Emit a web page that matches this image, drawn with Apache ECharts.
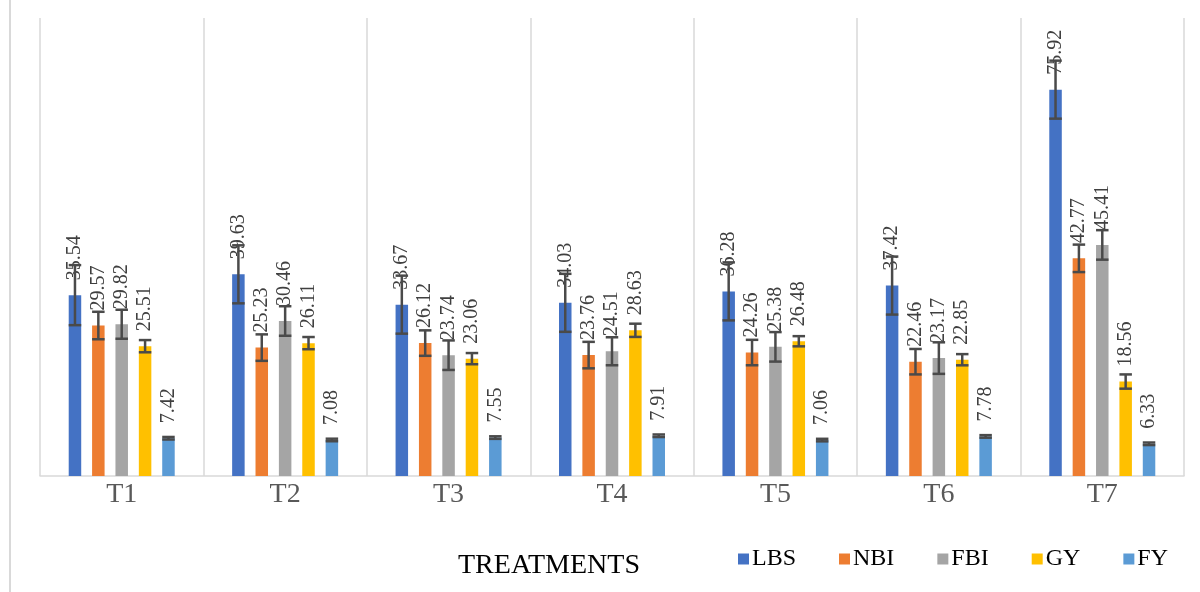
<!DOCTYPE html>
<html>
<head>
<meta charset="utf-8">
<script src="https://cdn.jsdelivr.net/npm/echarts@6/dist/echarts.min.js"></script>
<style>html,body{margin:0;padding:0;background:#fff}#c{width:1200px;height:592px}</style>
</head>
<body>
<div id="c"></div>
<script>
const categories = ['T1','T2','T3','T4','T5','T6','T7'];
const seriesNames = ['LBS','NBI','FBI','GY','FY'];
const LBS = [35.54, 39.63, 33.67, 34.03, 36.28, 37.42, 75.92];
const NBI = [29.57, 25.23, 26.12, 23.76, 24.26, 22.46, 42.77];
const FBI = [29.82, 30.46, 23.74, 24.51, 25.38, 23.17, 45.41];
const GY  = [25.51, 26.11, 23.06, 28.63, 26.48, 22.85, 18.56];
const FY  = [7.42, 7.08, 7.55, 7.91, 7.06, 7.78, 6.33];
const errLBS = [5.9, 5.7, 5.7, 5.7, 5.7, 5.7, 5.7];
const errNBI = [2.7, 2.6, 2.5, 2.6, 2.5, 2.5, 2.7];
const errFBI = [2.85, 2.9, 2.9, 2.75, 2.9, 3.1, 2.9];
const errGY  = [1.2, 1.2, 1.1, 1.3, 1.0, 1.1, 1.4];
const errFY  = [0.25, 0.25, 0.25, 0.25, 0.25, 0.25, 0.25];

const values = [LBS, NBI, FBI, GY, FY];
const errors = [errLBS, errNBI, errFBI, errGY, errFY];
const colors = ['#4472C4','#ED7D31','#A5A5A5','#FFC000','#5B9BD5'];

const BAR_W = 12.5;
const GAP_RATIO = 0.87;
const STEP = BAR_W * (1 + GAP_RATIO);

const chart = echarts.init(document.getElementById('c'));
const series = [];
values.forEach((vals, k) => {
  series.push({
    name: seriesNames[k],
    type: 'bar',
    data: vals,
    barWidth: BAR_W,
    barGap: (GAP_RATIO * 100) + '%',
    itemStyle: { color: colors[k] },
    z: 2,
    label: {
      show: true,
      position: 'top',
      distance: 15,
      rotate: 90,
      align: 'left',
      verticalAlign: 'middle',
      fontFamily: 'Liberation Serif',
      fontSize: 20,
      color: '#404040',
      formatter: p => p.value.toFixed(2)
    }
  });
});
values.forEach((vals, k) => {
  series.push({
    type: 'custom',
    name: seriesNames[k] + '_err',
    z: 5,
    silent: true,
    data: vals.map((v, i) => [i, v, errors[k][i]]),
    renderItem: function (params, api) {
      const i = api.value(0), v = api.value(1), e = api.value(2);
      const hi = api.coord([i, v + e]);
      const lo = api.coord([i, v - e]);
      const x = hi[0] + (k - 2) * STEP;
      const hw = BAR_W / 2;
      const style = { stroke: '#4a4a4a', lineWidth: 2.5 };
      return {
        type: 'group',
        children: [
          { type: 'line', shape: { x1: x, y1: hi[1], x2: x, y2: lo[1] }, style },
          { type: 'line', shape: { x1: x - hw, y1: hi[1], x2: x + hw, y2: hi[1] }, style },
          { type: 'line', shape: { x1: x - hw, y1: lo[1], x2: x + hw, y2: lo[1] }, style }
        ]
      };
    }
  });
});

chart.setOption({
  animation: false,
  backgroundColor: '#fff',
  grid: { left: 40, right: 16, top: 18, bottom: 116 },
  xAxis: {
    type: 'category',
    data: categories,
    axisLine: { lineStyle: { color: '#d9d9d9', width: 1.5 } },
    axisTick: { show: false },
    splitLine: { show: true, lineStyle: { color: '#d9d9d9', width: 1.5 } },
    axisLabel: { fontFamily: 'Liberation Serif', fontSize: 28, color: '#595959', margin: 5 }
  },
  yAxis: { type: 'value', min: 0, max: 90, show: false },
  legend: {
    data: seriesNames,
    left: 733, top: 542,
    icon: 'rect', itemWidth: 11, itemHeight: 11, itemGap: 43,
    textStyle: { fontFamily: 'Liberation Serif', fontSize: 24, color: '#000', padding: [0,0,0,-2] }
  },
  graphic: [
    { type: 'line', shape: { x1: 10, y1: 0, x2: 10, y2: 592 }, style: { stroke: '#d9d9d9', lineWidth: 2 } },
    { type: 'text', left: 458, top: 552, style: { text: 'TREATMENTS', font: '28px "Liberation Serif"', fill: '#000' } }
  ],
  series: series
});
</script>
</body>
</html>
